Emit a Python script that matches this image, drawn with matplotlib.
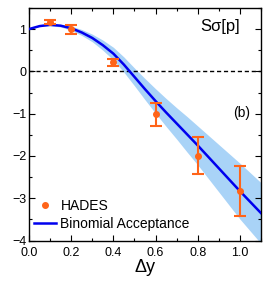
import matplotlib
matplotlib.use("Agg")
import matplotlib.pyplot as plt
from matplotlib.ticker import MultipleLocator, FormatStrFormatter
from matplotlib.lines import Line2D
import numpy as np

plt.rcParams['font.family'] = ['Liberation Sans', 'DejaVu Sans']

# HADES data
dy_data = [0.1, 0.2, 0.4, 0.6, 0.8, 1.0]
s_data = [1.16, 0.99, 0.21, -1.01, -1.99, -2.83]
s_err = [0.05, 0.11, 0.08, 0.27, 0.44, 0.60]

# Binomial acceptance curve and band half-width
dy_curve = [0.0, 0.05, 0.1, 0.15, 0.2, 0.25, 0.3, 0.35, 0.4, 0.45, 0.5, 0.55,
            0.6, 0.65, 0.7, 0.75, 0.8, 0.85, 0.9, 0.95, 1.0, 1.05, 1.1]
s_curve = [1.0, 1.07, 1.10, 1.08, 1.02, 0.92, 0.79, 0.62, 0.42, 0.16, -0.13, -0.42,
           -0.70, -0.97, -1.23, -1.49, -1.75, -2.02, -2.29, -2.56, -2.83, -3.09, -3.35]
band_half = [0.0, 0.01, 0.02, 0.03, 0.05, 0.07, 0.09, 0.12, 0.15, 0.18, 0.21, 0.25,
             0.29, 0.33, 0.37, 0.42, 0.46, 0.51, 0.56, 0.61, 0.66, 0.69, 0.72]

fig = plt.figure(figsize=(2.66, 2.83), dpi=100)
ax = fig.add_axes([0.109, 0.150, 0.872, 0.822])

c = np.array(s_curve)
h = np.array(band_half)
ax.fill_between(dy_curve, c - h, c + h, color='#a9d3f7', lw=0, zorder=1)
ax.axhline(0, color='black', ls=(0, (3, 2)), lw=1.0, zorder=2)
ax.plot(dy_curve, s_curve, color='#0000ee', lw=1.8, zorder=3)
ax.errorbar(dy_data, s_data, yerr=s_err, fmt='o', color='#ff6419', ms=4,
            elinewidth=1.5, capsize=4, capthick=1.5, zorder=4)

ax.set_xlim(0, 1.1)
ax.set_ylim(-4, 1.5)
ax.xaxis.set_major_locator(MultipleLocator(0.2))
ax.xaxis.set_minor_locator(MultipleLocator(0.1))
ax.yaxis.set_major_locator(MultipleLocator(1))
ax.yaxis.set_minor_locator(MultipleLocator(0.5))
ax.xaxis.set_major_formatter(FormatStrFormatter('%.1f'))
ax.tick_params(which='both', direction='in', top=True, right=True, labelsize=9, width=0.8)
ax.tick_params(axis='x', pad=4.5)
ax.tick_params(axis='y', pad=2)
ax.tick_params(which='major', length=4)
ax.tick_params(which='minor', length=2)
for s in ax.spines.values():
    s.set_linewidth(1.0)

ax.set_xlabel('Δy', fontsize=13, labelpad=0)
ax.text(0.91, 0.92, 'Sσ[p]', transform=ax.transAxes, ha='right', va='center', fontsize=12)
ax.text(0.953, 0.549, '(b)', transform=ax.transAxes, ha='right', va='center', fontsize=10)

h_hades = Line2D([], [], ls='none', marker='o', ms=4, color='#ff6419')
h_binom = Line2D([], [], color='#0000ee', lw=1.8)
ax.legend([h_hades, h_binom], ['HADES', 'Binomial Acceptance'], loc='lower left',
          bbox_to_anchor=(-0.02, 0.0), frameon=False, fontsize=10, handlelength=1.6,
          handletextpad=0.3, borderaxespad=0.3, labelspacing=0.3)

fig.savefig('out.png', dpi=100)
